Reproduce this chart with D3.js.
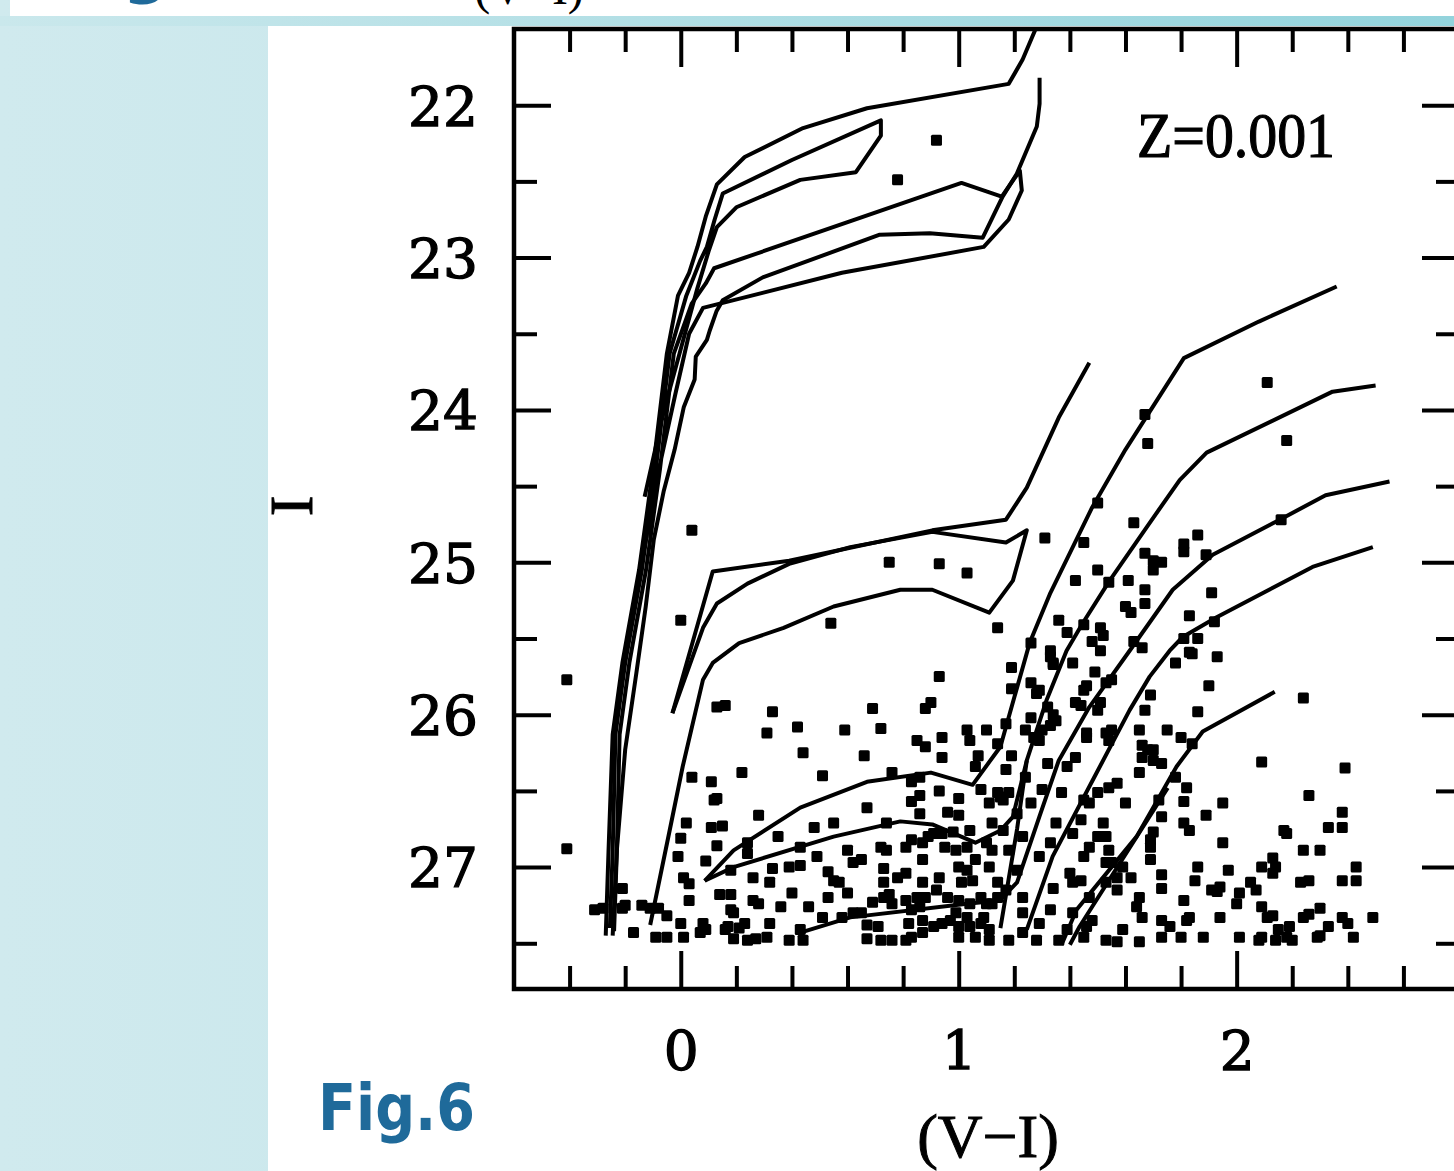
<!DOCTYPE html>
<html>
<head>
<meta charset="utf-8">
<script src="https://cdn.jsdelivr.net/npm/d3@7"></script>
<style>
body { margin: 0; background: #fff; }
</style>
</head>
<body>
<script>
// isochrones, Z=0.001, in (V-I, I)
const iso1 = [[-0.27,27.45],[-0.26,26.90],[-0.245,26.13],[-0.21,25.66],[-0.15,25.05],[-0.10,24.39],[-0.05,23.63],[-0.01,23.25],[0.03,23.10],[0.06,22.93],[0.09,22.73],[0.13,22.52],[0.23,22.34],[0.44,22.15],[0.67,22.02],[1.18,21.86],[1.23,21.70],[1.30,21.40]];
const iso2 = [[-0.255,27.40],[-0.245,26.90],[-0.235,26.13],[-0.20,25.66],[-0.14,25.05],[-0.09,24.39],[-0.04,23.63],[0.02,23.25],[0.07,23.02],[0.094,22.93],[0.122,22.75],[0.151,22.58],[0.40,22.36],[0.72,22.10],[0.72,22.20],[0.63,22.44],[0.43,22.49],[0.20,22.67],[0.13,22.80],[0.10,22.96],[0.06,23.20],[0.0,23.60],[-0.06,24.00],[-0.13,24.57]];
const iso3 = [[-0.24,27.42],[-0.23,26.90],[-0.22,26.13],[-0.185,25.66],[-0.125,25.05],[-0.075,24.39],[-0.025,23.63],[0.04,23.30],[0.09,23.17],[0.12,23.07],[1.01,22.51],[1.155,22.60],[1.22,22.43],[1.227,22.56],[1.18,22.75],[1.09,22.93],[0.58,23.10],[0.08,23.33],[0.03,23.50],[-0.02,23.90],[-0.08,24.40],[-0.155,25.14]];
const iso4 = [[-0.245,27.45],[-0.23,26.89],[-0.20,26.23],[-0.16,25.73],[-0.126,25.29],[-0.097,24.85],[-0.061,24.53],[-0.022,24.26],[0.011,23.98],[0.05,23.80],[0.054,23.65],[0.094,23.54],[0.104,23.48],[0.129,23.35],[0.151,23.28],[0.295,23.13],[0.716,22.85],[0.896,22.84],[1.086,22.87],[1.158,22.60],[1.209,22.45],[1.281,22.14],[1.291,21.99],[1.291,21.82]];
const isoMa = [[-0.03,25.99],[0.115,25.06],[0.39,24.99],[0.905,24.79],[1.17,24.72],[1.245,24.51],[1.36,24.05],[1.47,23.69]];
const isoMb = [[-0.03,25.99],[0.08,25.43],[0.13,25.27],[0.24,25.14],[0.39,25.01],[0.61,24.90],[0.905,24.80],[1.17,24.87],[1.245,24.79],[1.195,25.12],[1.11,25.33],[0.905,25.18],[0.79,25.18],[0.55,25.29],[0.37,25.43],[0.21,25.53],[0.115,25.66],[0.08,25.77],[0.007,26.34],[-0.04,26.76],[-0.11,27.38]];
const isoLc = [[0.086,27.09],[0.19,26.89],[0.43,26.61],[0.67,26.44],[0.90,26.38],[1.05,26.46],[1.15,26.21],[1.255,25.53],[1.33,25.20],[1.48,24.64],[1.60,24.26],[1.81,23.66],[2.08,23.42],[2.36,23.19]];
const isoLd = [[0.086,27.09],[0.19,27.00],[0.55,26.80],[0.79,26.70],[0.905,26.72],[1.06,26.84],[1.15,26.76],[1.195,26.67],[1.245,26.30],[1.317,25.90],[1.388,25.58],[1.446,25.40],[1.543,25.12],[1.676,24.77],[1.795,24.46],[1.892,24.28],[2.345,23.88],[2.50,23.84]];
const isoLdTail = [[1.15,27.40],[1.21,26.75],[1.245,26.30]];
const isoLe = [[0.43,27.43],[0.61,27.33],[1.03,27.24],[1.147,27.22],[1.21,27.10],[1.29,26.67],[1.36,26.30],[1.47,25.95],[1.615,25.58],[1.77,25.18],[1.914,24.95],[2.155,24.72],[2.32,24.56],[2.55,24.47]];
const rgbD = [[1.245,27.41],[1.338,26.93],[1.482,26.43],[1.615,25.97],[1.687,25.75],[1.759,25.58],[1.806,25.49],[1.928,25.36],[2.273,25.03],[2.49,24.90]];
const rgbE = [[1.37,27.51],[1.424,27.28],[1.64,26.80],[1.784,26.34],[1.878,26.11],[2.137,25.85]];
const rgbE2 = [[1.40,27.51],[1.435,27.39],[1.752,26.48]];

// observed stars (V-I, I)
const starsBright = [[0.92,22.23],[0.78,22.49],[2.11,23.82],[2.18,24.20],[1.67,24.03],[1.68,24.22],[1.50,24.61],[1.63,24.74],[2.16,24.72],[1.31,24.84],[1.45,24.87],[1.86,24.82],[1.81,24.88],[1.81,24.93],[1.67,24.94],[1.70,24.99],[1.73,25.00],[1.70,25.05],[1.89,24.95],[1.03,25.07],[1.50,25.05],[1.42,25.12],[1.54,25.13],[1.61,25.12],[1.67,25.18],[1.67,25.27],[1.60,25.29],[1.62,25.33],[1.91,25.20],[1.83,25.35],[1.92,25.39],[1.14,25.43],[1.36,25.38],[1.51,25.43],[1.52,25.48],[1.45,25.41],[1.39,25.46],[1.48,25.52],[1.51,25.58],[1.33,25.58],[1.26,25.53],[1.63,25.52],[1.66,25.56],[1.81,25.50],[1.86,25.50],[1.83,25.59],[1.84,25.60],[1.93,25.62],[0.04,24.79],[0.75,25.00],[0.93,25.01],[0.00,25.38],[0.54,25.40],[-0.41,25.77]];
const starsMid = [[1.19,25.69],[1.34,25.66],[1.41,25.66],[1.49,25.72],[1.78,25.66],[0.93,25.75],[1.19,25.83],[0.90,25.92],[0.88,25.96],[0.69,25.96],[0.16,25.94],[0.13,25.95],[0.33,25.98],[0.42,26.08],[0.31,26.12],[0.59,26.10],[0.72,26.09],[0.44,26.25],[0.66,26.27],[0.85,26.17],[0.88,26.21],[0.94,26.15],[0.94,26.28],[1.03,26.10],[1.10,26.10],[1.04,26.17],[1.07,26.27],[1.06,26.34],[1.14,26.19],[1.19,26.27],[1.17,26.06],[1.24,26.10],[0.22,26.38],[0.04,26.41],[0.11,26.44],[0.13,26.55],[0.51,26.40],[0.76,26.38],[0.83,26.44],[0.86,26.41],[0.86,26.53],[0.93,26.50],[1.00,26.55],[0.67,26.61],[0.83,26.57],[0.86,26.65],[0.96,26.64],[1.00,26.66],[0.28,26.66],[0.12,26.56],[1.14,26.51],[1.16,26.56],[1.08,26.49],[1.11,26.58],
  [1.26,25.79],[1.28,25.86],[1.33,25.62],[1.34,25.67],[1.46,25.81],[1.45,25.84],[1.55,25.77],[1.53,25.79],[1.51,25.92],[1.50,25.97],[1.44,25.94],[1.26,26.02],[1.30,26.10],[1.33,26.07],[1.27,26.15],[1.29,26.17],[1.35,26.04],[1.46,26.12],[1.46,26.15],[1.53,26.12],[1.55,26.10],[1.54,26.17],[1.65,26.10],[1.68,26.23],[1.70,26.23],[1.66,26.28],[1.70,26.30],[1.73,26.32],[1.65,26.38],[1.75,26.10],[1.80,26.15],[1.84,26.19],[1.78,26.41],[1.82,26.48],[1.81,26.57],[1.72,26.56],[1.45,26.56],[1.47,26.58],[1.50,26.51],[1.54,26.48],[1.57,26.45],[1.60,26.58],[1.15,26.54],[1.18,26.51],[1.26,26.58],[1.24,26.41],[1.30,26.49],[1.17,26.36],[1.32,26.32],[1.37,26.51],[1.39,26.34],[1.42,26.28],[1.90,25.81],[1.86,25.98],[1.69,25.87],[1.67,25.97],[1.29,25.84],[1.32,25.95],[1.34,26.00],[1.66,26.20],[1.42,25.92],[2.24,25.89],[2.09,26.31],[2.39,26.35],[2.26,26.53],[1.95,26.58]];
const starsFaintBlue = [[-0.41,26.88],[0.02,26.71],[0.11,26.74],[0.15,26.73],[0.48,26.74],[0.55,26.71],[0.00,26.81],[0.13,26.86],[-0.01,26.93],[0.09,26.96],[0.01,27.07],[0.03,27.11],[0.03,27.22],[0.14,27.18],[0.18,27.18],[0.19,27.30],[0.08,27.37],[0.00,27.37],[-0.05,27.32],[-0.08,27.27],[-0.11,27.27],[-0.14,27.25],[-0.21,27.14],[-0.21,27.27],[-0.31,27.28],[-0.28,27.27],[-0.17,27.43],[-0.09,27.46],[-0.05,27.46],[0.01,27.46],[0.07,27.43],[0.09,27.41],[0.16,27.41],[0.19,27.47],
  [0.24,26.84],[0.35,26.80],[0.24,26.91],[0.43,26.87],[0.39,27.00],[0.43,26.99],[0.33,27.01],[0.32,27.10],[0.26,27.07],[0.18,27.02],[0.40,27.17],[0.53,27.03],[0.49,26.93],[0.60,26.89],[0.55,27.09],[0.57,27.10],[0.62,26.97],[0.65,26.95],[0.60,27.17],[0.53,27.20],[0.46,27.26],[0.36,27.26],[0.26,27.22],[0.28,27.24],[0.18,27.28],[-0.20,27.25],[0.17,27.39],[0.21,27.40],[0.24,27.48],[0.27,27.47],[0.31,27.46],[0.32,27.37],[0.23,27.37],[0.39,27.48],[0.44,27.48],[0.43,27.41],[0.51,27.33],[0.58,27.33],[0.62,27.30],[0.67,27.38],[0.71,27.39],[0.67,27.47],[0.72,27.48],[0.76,27.48],[0.81,27.48],[0.83,27.46],[0.87,27.43],[0.82,27.37],[0.87,27.35],[0.91,27.39],[0.94,27.37],[0.83,27.28],[0.86,27.26],[0.76,27.24],[0.73,27.20],[0.75,27.18],[0.69,27.23],[0.65,27.30],[0.87,27.10],[0.92,27.15],[0.96,27.20],[0.85,27.20],[0.88,27.20],[0.81,27.22],[0.73,27.10],[0.78,27.07],[0.81,27.04],[0.73,27.01],[0.81,26.87],[0.74,26.89],[0.83,26.82],[0.87,26.84],[0.89,26.80],[0.91,26.78],[0.94,26.78],[0.98,26.77],[0.87,26.95],[0.99,26.89],[1.03,26.87],[0.93,27.07],[1.00,27.00],[1.03,27.02],[1.01,27.10],[1.05,27.09],[1.06,26.95],[1.08,27.20],[1.10,27.24],[0.99,27.30],[0.97,27.35],[1.03,27.33],[1.04,27.39],[1.08,27.37],[1.11,27.41],[1.00,27.46],[1.06,27.46],[1.12,26.71],[1.10,26.84],[1.12,26.89],[1.04,26.76],[1.11,27.00],[1.14,27.10],[1.14,27.20],[0.95,26.87],[0.72,26.87],[0.74,26.71]];
const starsFaintRed = [[1.89,26.66],[1.81,26.71],[1.83,26.76],[1.95,26.84],[1.97,27.02],[1.86,27.00],[1.85,27.09],[1.73,26.67],[1.70,26.77],[1.69,26.82],[1.69,26.87],[1.69,26.95],[1.73,27.05],[1.73,27.14],[1.81,27.22],[1.65,27.20],[1.64,27.26],[1.62,27.07],[1.59,27.00],[1.57,27.07],[1.83,27.33],[1.66,27.33],[1.73,27.35],[1.76,27.39],[1.73,27.46],[1.80,27.46],[1.88,27.46],[1.65,27.49],[1.59,27.41],[1.53,27.48],[1.57,27.49],[1.45,27.46],[1.39,27.41],[1.36,27.48],[1.48,27.35],[1.46,27.39],[1.41,27.30],[1.47,27.20],[1.41,27.10],[1.44,27.09],[1.53,27.10],[1.57,27.15],[1.53,26.97],[1.55,26.97],[1.54,26.89],[1.53,26.80],[1.50,26.80],[1.47,26.87],[1.45,26.93],[1.40,27.04],[1.52,26.71],[1.44,26.69],[1.41,26.78],[1.34,27.14],[1.33,27.28],[1.29,27.37],[1.28,27.48],[1.23,27.43],[1.18,27.48],[1.11,27.48],[1.00,27.39],[1.09,27.33],[1.12,27.24],[1.04,27.24],[1.00,27.22],[1.21,27.02],[1.17,27.15],[1.23,27.20],[1.23,27.30],[1.16,26.76],[1.23,26.80],[1.18,26.89],[1.21,26.65],[1.35,26.71],[1.33,26.84],[1.29,26.93],
  [2.05,27.10],[2.07,27.15],[2.01,27.17],[2.00,27.24],[2.09,27.26],[2.11,27.33],[1.91,27.15],[1.94,27.13],[2.01,27.46],[2.09,27.46],[2.14,27.48],[2.18,27.46],[2.20,27.48],[2.15,27.41],[2.19,27.39],[2.13,27.04],[2.14,27.00],[2.09,27.00],[2.17,26.76],[2.18,26.78],[2.13,26.94],[2.24,26.89],[2.30,26.89],[2.23,27.10],[2.26,27.09],[2.24,27.33],[2.26,27.31],[2.30,27.27],[2.33,27.39],[2.30,27.45],[2.38,27.33],[2.40,27.37],[2.42,27.46],[2.49,27.33],[2.38,27.09],[2.43,27.09],[2.43,27.00],[2.33,26.74],[2.38,26.74],[2.38,26.64],[1.93,27.16],[1.94,27.33],[1.82,27.35],[2.13,27.32],[2.29,27.46],[2.08,27.48]];

const xMajor = [0, 1, 2];
const xMinor = [-0.4, -0.2, 0.2, 0.4, 0.6, 0.8, 1.2, 1.4, 1.6, 1.8, 2.2, 2.4, 2.6];
const yMajor = [22, 23, 24, 25, 26, 27];
const yMinor = [22.5, 23.5, 24.5, 25.5, 26.5, 27.5];

const W = 1454, H = 1171;
const svg = d3.select('body')
             .append('svg')
             .attr('width', W)
             .attr('height', H);

// slide background
const defs = svg.append('defs');
const gl = defs.append('linearGradient').attr('id', 'leftbg').attr('x1', '0').attr('x2', '1').attr('y1', '0').attr('y2', '0');
gl.append('stop').attr('offset', '0').attr('stop-color', '#d0eaee');
gl.append('stop').attr('offset', '1').attr('stop-color', '#bce2e8');
const gt = defs.append('linearGradient').attr('id', 'topbg').attr('x1', '0').attr('x2', '1').attr('y1', '0').attr('y2', '0');
gt.append('stop').attr('offset', '0').attr('stop-color', '#cae8ec');
gt.append('stop').attr('offset', '1').attr('stop-color', '#93d3dc');

svg.append('rect').attr('x', 0).attr('y', 0).attr('width', W).attr('height', H).attr('fill', 'url(#leftbg)');
svg.append('rect').attr('x', 0).attr('y', 16).attr('width', W).attr('height', 10).attr('fill', 'url(#topbg)');
svg.append('rect').attr('x', 10).attr('y', 0).attr('width', W - 10).attr('height', 16).attr('fill', 'white');
svg.append('rect').attr('x', 268).attr('y', 26).attr('width', W - 268).attr('height', H - 26).attr('fill', 'white');

// title line of the slide, cut off at the top edge as in the original
svg.append('text').attr('x', 57).attr('y', -9)
   .style('font-family', 'DejaVu Sans').style('font-weight', 'bold').style('font-size', '64px')
   .attr('fill', '#1f6a9a').text('Fig');
svg.append('text').attr('x', 529).attr('y', 4).attr('text-anchor', 'middle')
   .style('font-family', 'Liberation Serif').style('font-size', '48px')
   .attr('fill', 'black').text('(V\u2212I)');

const x = d3.scaleLinear().domain([-0.6, 2.8]).range([514, 1459]);
const y = d3.scaleLinear().domain([21.5, 27.8]).range([29, 989]);

defs.append('clipPath').attr('id', 'plotclip')
    .append('rect').attr('x', x(-0.6)).attr('y', y(21.5))
    .attr('width', x(2.8) - x(-0.6)).attr('height', y(27.8) - y(21.5));

const styleAxis = g => {
  g.select('.domain').remove();
  g.selectAll('.tick line').attr('stroke', 'black').attr('stroke-width', 4);
  g.selectAll('.tick text').attr('fill', 'black')
   .attr('stroke', 'black').attr('stroke-width', 1.3)
   .style('font-family', 'DejaVu Serif').style('font-size', '55px');
};

// bottom and top
const bottomMinor = svg.append('g').attr('transform', `translate(0,${y(27.8)})`)
   .call(d3.axisBottom(x).tickValues(xMinor).tickSize(-23).tickFormat('')).call(styleAxis);
const bottomMajor = svg.append('g').attr('transform', `translate(0,${y(27.8)})`)
   .call(d3.axisBottom(x).tickValues(xMajor).tickSize(-38).tickPadding(42).tickFormat(d3.format('d'))).call(styleAxis);
svg.append('g').attr('transform', `translate(0,${y(21.5)})`)
   .call(d3.axisTop(x).tickValues(xMinor).tickSize(-23).tickFormat('')).call(styleAxis);
svg.append('g').attr('transform', `translate(0,${y(21.5)})`)
   .call(d3.axisTop(x).tickValues(xMajor).tickSize(-38).tickFormat('')).call(styleAxis);

// left and right
svg.append('g').attr('transform', `translate(${x(-0.6)},0)`)
   .call(d3.axisLeft(y).tickValues(yMinor).tickSize(-23).tickFormat('')).call(styleAxis);
const leftMajor = svg.append('g').attr('transform', `translate(${x(-0.6)},0)`)
   .call(d3.axisLeft(y).tickValues(yMajor).tickSize(-37).tickPadding(36).tickFormat(d3.format('d'))).call(styleAxis);
svg.append('g').attr('transform', `translate(${x(2.8)},0)`)
   .call(d3.axisRight(y).tickValues(yMinor).tickSize(-23).tickFormat('')).call(styleAxis);
svg.append('g').attr('transform', `translate(${x(2.8)},0)`)
   .call(d3.axisRight(y).tickValues(yMajor).tickSize(-37).tickFormat('')).call(styleAxis);

bottomMajor.selectAll('.tick text').attr('dy', '0.71em');
leftMajor.selectAll('.tick text').attr('dy', '0.36em');

// frame
svg.append('rect')
   .attr('x', x(-0.6)).attr('y', y(21.5))
   .attr('width', x(2.8) - x(-0.6)).attr('height', y(27.8) - y(21.5))
   .attr('fill', 'none').attr('stroke', 'black').attr('stroke-width', 4.5);

// isochrones
const line = d3.line().x(d => x(d[0])).y(d => y(d[1]));
const isochrones = [iso1, iso2, iso3, iso4, isoMa, isoMb, isoLc, isoLd, isoLdTail, isoLe, rgbD, rgbE, rgbE2];
svg.append('g').attr('clip-path', 'url(#plotclip)')
   .selectAll('path').data(isochrones).join('path')
   .attr('d', line)
   .attr('fill', 'none').attr('stroke', 'black')
   .attr('stroke-width', 4).attr('stroke-linejoin', 'round');

// stars
const stars = starsBright.concat(starsMid, starsFaintBlue, starsFaintRed);
const s = 11;
svg.append('g').selectAll('rect').data(stars).join('rect')
   .attr('x', d => x(d[0]) - s / 2).attr('y', d => y(d[1]) - s / 2)
   .attr('width', s).attr('height', s).attr('rx', 1.5).attr('fill', 'black');

// labels
svg.append('text').attr('x', 1137).attr('y', 157)
   .attr('textLength', 198).attr('lengthAdjust', 'spacingAndGlyphs')
   .attr('stroke', 'black').attr('stroke-width', 1.2)
   .style('font-family', 'Liberation Serif').style('font-size', '64px')
   .text('Z=0.001');
svg.append('text').attr('x', 988).attr('y', 1157).attr('text-anchor', 'middle')
   .attr('stroke', 'black').attr('stroke-width', 1)
   .style('font-family', 'Liberation Serif').style('font-size', '62px')
   .text('(V\u2212I)');
svg.append('text').attr('transform', 'translate(312,506) rotate(-90)').attr('text-anchor', 'middle')
   .attr('stroke', 'black').attr('stroke-width', 1)
   .style('font-family', 'Liberation Serif').style('font-size', '62px')
   .text('I');
svg.append('text').attr('x', 318).attr('y', 1130)
   .attr('textLength', 157).attr('lengthAdjust', 'spacingAndGlyphs')
   .style('font-family', 'DejaVu Sans').style('font-weight', 'bold').style('font-size', '64px')
   .attr('fill', '#1f6a9a').text('Fig.6');
</script>
</body>
</html>
